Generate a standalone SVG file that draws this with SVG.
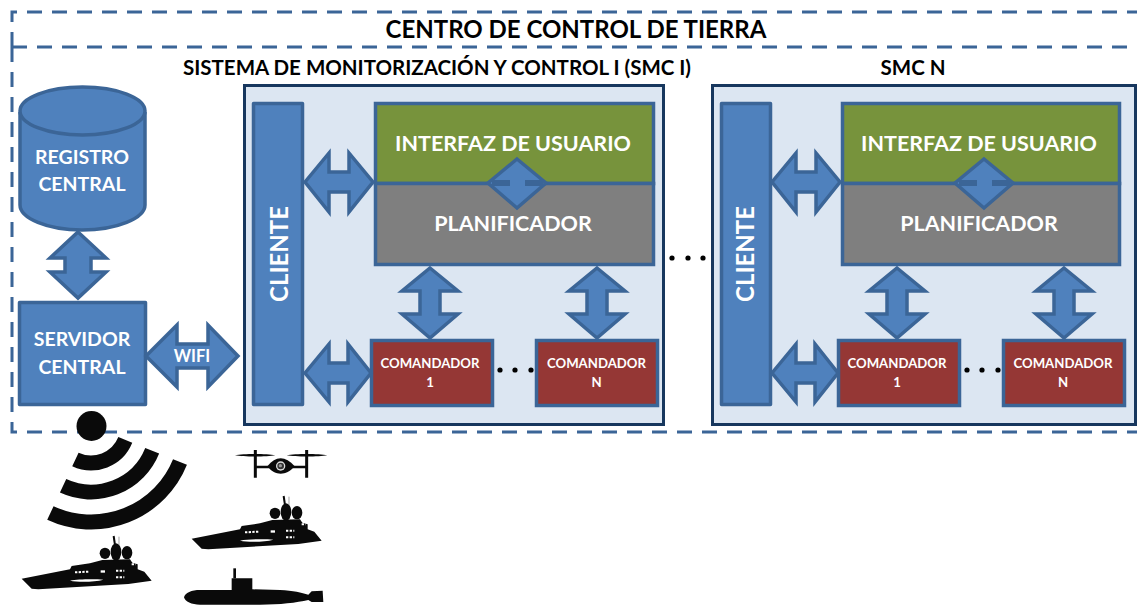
<svg xmlns="http://www.w3.org/2000/svg" width="1137" height="606" viewBox="0 0 1137 606">
<style>
text{font-family:"Lato","Open Sans","Liberation Sans",sans-serif;font-weight:700;text-anchor:middle}
.t{fill:#000}
.w{fill:#fff}
.b{fill:#4f81bd;stroke:#3b6597;stroke-width:3.5;stroke-linejoin:round}
.a{fill:#4f81bd;stroke:#3b6597;stroke-width:3.5;stroke-linejoin:miter}
.p{fill:#dce6f2;stroke:#17375e;stroke-width:3}
.r{fill:#953735;stroke:#3b6597;stroke-width:3.5}
.d{fill:none;stroke:#3b6597;stroke-width:3;stroke-dasharray:15 10}
.k{fill:#0a0a0a}
.bar{stroke:#3b6597;stroke-width:6;fill:none}
.ui{fill:#77933c;stroke:#3b6597;stroke-width:3.5}
.pl{fill:#7f7f7f;stroke:#3b6597;stroke-width:3.5}
</style>
<defs>
<g id="ship">
<path class="k" d="M20 146L165 118L170 108L225 100L262 90L345 88L352 98L368 103L368 118L388 125L410 152L340 162L70 178L50 176Z"/>
<ellipse class="k" cx="270" cy="70" rx="16" ry="17"/>
<ellipse class="k" cx="336" cy="68" rx="16" ry="20"/>
<ellipse class="k" cx="303" cy="66" rx="16" ry="26"/>
<path d="M296 18L300 45" stroke="#0a0a0a" stroke-width="6" fill="none"/>
<path d="M312 20V45" stroke="#777" stroke-width="2" fill="none"/>
<path d="M165 152C190 147 240 147 265 149C240 156 190 157 165 152Z" fill="#fff"/>
<path d="M180 127L222 125M303 122H328M303 142H328M350 103H362" stroke="#fff" stroke-width="6" stroke-dasharray="7 4" fill="none"/>
<rect x="257" y="121" width="13" height="7" fill="#fff"/>
</g>
</defs>

<g id="centro">
<path class="d" d="M12 47V12H1137"/>
<path class="d" d="M12 47H1137"/>
<path class="d" d="M12 47V432H1137"/>
<text class="t" x="576" y="38" font-size="24">CENTRO DE CONTROL DE TIERRA</text>
<text class="t" x="437" y="75" font-size="20.5" textLength="508" lengthAdjust="spacingAndGlyphs">SISTEMA DE MONITORIZACIÓN Y CONTROL I (SMC I)</text>
<text class="t" x="913" y="75" font-size="20.5">SMC N</text>
</g>

<g id="registro">
<path class="b" d="M20 112V205C20 218 47 230 82 230S145 218 145 205V112"/>
<ellipse class="b" cx="82.500" cy="111" rx="62.500" ry="24"/>
<text class="w" x="82" y="164" font-size="19.500">REGISTRO</text>
<text class="w" x="82" y="191" font-size="19.500">CENTRAL</text>
</g>
<g id="servidor">
<rect class="b" x="19.500" y="302.500" width="126" height="102"/>
<text class="w" x="82" y="346" font-size="19.500">SERVIDOR</text>
<text class="w" x="82" y="374" font-size="19.500">CENTRAL</text>
</g>
<g id="smc1">
<rect class="p" x="244.500" y="85.500" width="419" height="339"/>
<g id="cliente1"><rect class="b" x="253.500" y="103.500" width="49" height="301"/>
<text class="w" transform="translate(288 254) rotate(-90)" font-size="24">CLIENTE</text></g>
<g id="interfaz1"><rect class="ui" x="375.500" y="103.500" width="278" height="80"/>
<text class="w" x="513" y="151" font-size="21.500">INTERFAZ DE USUARIO</text></g>
<g id="plan1"><rect class="pl" x="375.500" y="183.500" width="278" height="81"/>
<text class="w" x="513" y="231" font-size="21.500">PLANIFICADOR</text></g>
<g id="com1a"><rect class="r" x="371.500" y="340.500" width="121" height="65"/>
<text class="w" x="430" y="368" font-size="13.200">COMANDADOR</text><text class="w" x="430" y="387" font-size="13.200">1</text></g>
<g id="com1n"><rect class="r" x="536.500" y="340.500" width="121" height="65"/>
<text class="w" x="596.500" y="368" font-size="13.200">COMANDADOR</text><text class="w" x="596.500" y="387" font-size="13.200">N</text></g>
</g>
<g id="smc2">
<rect class="p" x="712.500" y="85.500" width="423" height="339"/>
<g id="cliente2"><rect class="b" x="721.500" y="103.500" width="49" height="301"/>
<text class="w" transform="translate(754 254) rotate(-90)" font-size="24">CLIENTE</text></g>
<g id="interfaz2"><rect class="ui" x="842.500" y="103.500" width="277" height="80"/>
<text class="w" x="979" y="151" font-size="21.500">INTERFAZ DE USUARIO</text></g>
<g id="plan2"><rect class="pl" x="842.500" y="183.500" width="277" height="81"/>
<text class="w" x="979" y="231" font-size="21.500">PLANIFICADOR</text></g>
<g id="com2a"><rect class="r" x="838.500" y="340.500" width="121" height="65"/>
<text class="w" x="897" y="368" font-size="13.200">COMANDADOR</text><text class="w" x="897" y="387" font-size="13.200">1</text></g>
<g id="com2n"><rect class="r" x="1003.500" y="340.500" width="121" height="65"/>
<text class="w" x="1063" y="368" font-size="13.200">COMANDADOR</text><text class="w" x="1063" y="387" font-size="13.200">N</text></g>
</g>

<g id="connectors">
<path class="a" d="M78 232L106 258H91V272H106L78 298L50 272H65V258H50Z"/>
<path class="a" d="M146 356L177 325V344H208V325L238 356L208 387V368H177V387Z"/>
<text class="w" x="192" y="362" font-size="16.500">WIFI</text>
<path class="a" d="M305 182L329 153V172H349V153L373 182L349 212V192H329V212Z"/>
<path class="a" d="M305 373L329 344V363H348V344L371 373L348 402V383H329V402Z"/>
<path class="a" d="M430 268L458 291H440V314H458L430 338L402 314H420V291H402Z"/>
<path class="a" d="M597 268L625 291H607V314H625L597 338L569 314H587V291H569Z"/>
<path class="a" d="M517 159L546 183L517 208L488 183Z"/>
<path class="bar" d="M492 183H510M525 183H543"/>
<path class="a" d="M772 182L796 153V172H816V153L840 182L816 212V192H796V212Z"/>
<path class="a" d="M772 373L796 344V363H815V344L838 373L815 402V383H796V402Z"/>
<path class="a" d="M897 268L925 291H907V314H925L897 338L869 314H887V291H869Z"/>
<path class="a" d="M1064 268L1092 291H1074V314H1092L1064 338L1036 314H1054V291H1036Z"/>
<path class="a" d="M984 159L1013 183L984 208L955 183Z"/>
<path class="bar" d="M959 183H977M992 183H1010"/>
</g>

<g id="dots" fill="#000">
<circle cx="672" cy="258" r="2.600"/><circle cx="688" cy="258" r="2.600"/><circle cx="703" cy="258" r="2.600"/>
<circle cx="500" cy="370" r="2.600"/><circle cx="515" cy="370" r="2.600"/><circle cx="531" cy="370" r="2.600"/>
<circle cx="967" cy="370" r="2.600"/><circle cx="982" cy="370" r="2.600"/><circle cx="998" cy="370" r="2.600"/>
</g>

<g id="wifi">
<circle class="k" cx="91.500" cy="426" r="15"/>
<path d="M125.300 439.900A37 37 0 0 1 75.400 459.500" fill="none" stroke="#0a0a0a" stroke-width="15"/>
<path d="M152.200 450.700A66 66 0 0 1 63.100 485.800" fill="none" stroke="#0a0a0a" stroke-width="15"/>
<path d="M180 462A96 96 0 0 1 50.400 513" fill="none" stroke="#0a0a0a" stroke-width="15"/>
</g>
<g id="drone" transform="translate(230 445) scale(.3333)">
<path class="k" d="M15 31C40 26 110 26 136 31C110 36 40 36 15 31ZM170 31C196 26 266 26 292 31C266 36 196 36 170 31Z"/>
<path d="M76 15V98M230 15V98" stroke="#0a0a0a" stroke-width="9" fill="none"/>
<path d="M76 66H125M185 66H230" stroke="#0a0a0a" stroke-width="7" fill="none"/>
<path class="k" d="M112 64C125 48 138 40 152 40C166 40 180 48 194 64C180 80 166 86 152 86C138 86 125 80 112 64Z"/>
<circle cx="152" cy="63" r="14" fill="#ddd"/><circle cx="152" cy="63" r="10" fill="#333"/><circle cx="151" cy="62" r="5" fill="#999"/>
</g>
<use id="ship1" href="#ship" transform="translate(185 490) scale(.3333)"/>
<use id="ship2" href="#ship" transform="translate(15 530) scale(.3333)"/>
<g id="submarine" transform="translate(180 560) scale(.3333)">
<path class="k" d="M12 112C15 98 35 90 60 90H155V55H217V88L300 90C340 92 365 98 385 104L395 94L428 92L430 126L395 126L385 120C350 128 300 134 240 134H60C35 134 15 125 12 112Z"/>
<rect class="k" x="160" y="25" width="8" height="30"/>
</g>
</svg>
